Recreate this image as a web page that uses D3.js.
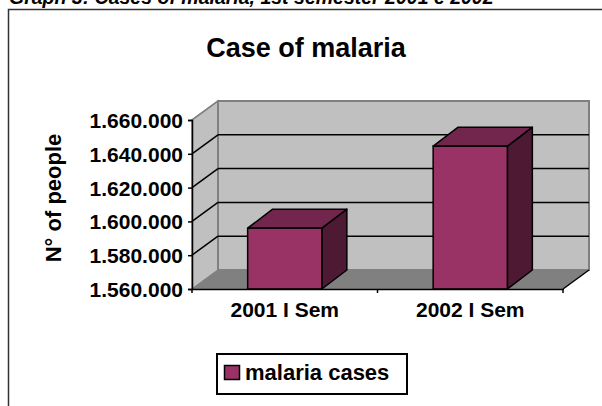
<!DOCTYPE html>
<html>
<head>
<meta charset="utf-8">
<script src="https://cdn.jsdelivr.net/npm/d3@7"></script>
<style>
  body { margin: 0; background: #fff; }
  text { font-family: Arial, "Liberation Sans", sans-serif; font-weight: bold; fill: #000; }
</style>
</head>
<body>
<div id="chart"></div>
<script>
// data
var categories = ["2001 I Sem", "2002 I Sem"];
var malariaCases = [1596000, 1644500];
var seriesName = "malaria cases";
var yTicks = [1560000, 1580000, 1600000, 1620000, 1640000, 1660000];
var chartTitle = "Case of malaria";
var yTitle = "N° of people";
var caption = "Graph 3: Cases of malaria, 1st semester 2001 e 2002";

var width = 602, height = 406;
var depthX = 26, depthY = 19;   // 3d depth of walls
var barDX = 25, barDY = 19;

var svg = d3.select("#chart").append("svg")
  .attr("width", width).attr("height", height)
  .style("display", "block");

var x = d3.scaleBand().domain(categories).range([192, 563])
  .paddingInner(0.6).paddingOuter(0.3);
var y = d3.scaleLinear().domain([1560000, 1660000]).range([289, 120]);

var fmt = d3.formatLocale({decimal: ",", thousands: ".", grouping: [3], currency: ["", ""]}).format(",d");

// caption (cut by the top edge, as in the source) + frame
svg.append("text").attr("x", 9).attr("y", 4)
  .style("font-size", "19.5px").style("font-style", "italic")
  .text(caption);
svg.append("path").attr("d", "M8.5,406 L8.5,9.5 L602,9.5")
  .attr("fill", "none").attr("stroke", "#333").attr("stroke-width", 1.5);

// title
svg.append("text").attr("x", 306).attr("y", 57).attr("text-anchor", "middle")
  .style("font-size", "27px").text(chartTitle);

var x0 = x.range()[0], x1 = x.range()[1];
var yMin = y(yTicks[0]), yMax = y(yTicks[yTicks.length - 1]);

// floor
svg.append("path")
  .attr("d", "M" + x0 + "," + yMin + " L" + (x0 + depthX) + "," + (yMin - depthY) +
    " L" + (x1 + depthX) + "," + (yMin - depthY) + " L" + x1 + "," + yMin + "Z")
  .attr("fill", "#808080");
// side wall
svg.append("path")
  .attr("d", "M" + x0 + "," + yMin + " L" + x0 + "," + yMax + " L" + (x0 + depthX) + "," + (yMax - depthY) +
    " L" + (x0 + depthX) + "," + (yMin - depthY) + "Z")
  .attr("fill", "#c0c0c0").attr("stroke", "#808080").attr("stroke-width", 1.5);
// back wall
svg.append("rect")
  .attr("x", x0 + depthX).attr("y", yMax - depthY)
  .attr("width", x1 - x0).attr("height", yMin - yMax)
  .attr("fill", "#c0c0c0").attr("stroke", "#808080").attr("stroke-width", 2);

// gridlines on back wall and side wall
var inner = yTicks.slice(1, -1);
svg.selectAll(".grid").data(inner).enter().append("line")
  .attr("x1", x0 + depthX).attr("x2", x1 + depthX)
  .attr("y1", function(d) { return y(d) - depthY; })
  .attr("y2", function(d) { return y(d) - depthY; })
  .attr("stroke", "#000").attr("stroke-width", 1.5);
svg.selectAll(".sgrid").data(yTicks.slice(1)).enter().append("line")
  .attr("x1", x0).attr("x2", x0 + depthX)
  .attr("y1", function(d) { return y(d); })
  .attr("y2", function(d) { return y(d) - depthY; })
  .attr("stroke", function(d, i) { return i == yTicks.length - 2 ? "#808080" : "#000"; })
  .attr("stroke-width", 1.5);
// floor right edge
svg.append("line")
  .attr("x1", x1).attr("y1", yMin).attr("x2", x1 + depthX).attr("y2", yMin - depthY)
  .attr("stroke", "#000").attr("stroke-width", 1.5);

// bars
var bars = svg.selectAll(".bar").data(malariaCases).enter().append("g");
bars.append("path") // side
  .attr("d", function(d, i) {
    var bx = x(categories[i]) + x.bandwidth(), t = y(d);
    return "M" + bx + "," + t + " L" + (bx + barDX) + "," + (t - barDY) + " L" + (bx + barDX) + "," + (yMin - barDY) +
      " L" + bx + "," + yMin + "Z";
  })
  .attr("fill", "#4d1933").attr("stroke", "#000").attr("stroke-width", 1.5).attr("stroke-linejoin", "round");
bars.append("path") // top
  .attr("d", function(d, i) {
    var bx = x(categories[i]), bw = x.bandwidth(), t = y(d);
    return "M" + bx + "," + t + " L" + (bx + barDX) + "," + (t - barDY) + " L" + (bx + bw + barDX) + "," + (t - barDY) +
      " L" + (bx + bw) + "," + t + "Z";
  })
  .attr("fill", "#73264d").attr("stroke", "#000").attr("stroke-width", 1.5).attr("stroke-linejoin", "round");
bars.append("rect") // front
  .attr("x", function(d, i) { return x(categories[i]); })
  .attr("y", function(d) { return y(d); })
  .attr("width", x.bandwidth())
  .attr("height", function(d) { return yMin - y(d); })
  .attr("fill", "#993366").attr("stroke", "#000").attr("stroke-width", 1.5);

// y axis
var yAxis = svg.append("g").attr("transform", "translate(" + x0 + ",0)")
  .call(d3.axisLeft(y).tickValues(yTicks).tickFormat(fmt).tickSize(4).tickPadding(5));
yAxis.select(".domain").attr("stroke", "#000").attr("stroke-width", 1.5);
yAxis.selectAll(".tick line").attr("stroke", "#000").attr("stroke-width", 1.5);
yAxis.selectAll("text").style("font-size", "21px").style("font-family", "Arial, 'Liberation Sans', sans-serif")
  .attr("fill", "#000").attr("dy", "0.36em");

// x axis
var xAxis = svg.append("g").attr("transform", "translate(0," + yMin + ")")
  .call(d3.axisBottom(x).tickSize(0).tickPadding(13));
xAxis.select(".domain").attr("stroke", "#000").attr("stroke-width", 1.5);
xAxis.selectAll("text").style("font-size", "21px").style("font-family", "Arial, 'Liberation Sans', sans-serif")
  .attr("fill", "#000");
// category separators
var seps = [x0, (x0 + x1) / 2, x1];
svg.selectAll(".xtick").data(seps).enter().append("line")
  .attr("x1", function(d) { return d; }).attr("x2", function(d) { return d; })
  .attr("y1", yMin).attr("y2", yMin + 4)
  .attr("stroke", "#000").attr("stroke-width", 1.5);

// y title
svg.append("text")
  .attr("transform", "translate(61,198) rotate(-90)")
  .attr("text-anchor", "middle").style("font-size", "22px")
  .text(yTitle);

// legend
var lg = svg.append("g");
lg.append("rect").attr("x", 217).attr("y", 354).attr("width", 190).attr("height", 40)
  .attr("fill", "#fff").attr("stroke", "#000").attr("stroke-width", 2);
lg.append("rect").attr("x", 224.5).attr("y", 365.5).attr("width", 15).attr("height", 14)
  .attr("fill", "#993366").attr("stroke", "#000").attr("stroke-width", 1.5);
lg.append("text").attr("x", 245).attr("y", 380).style("font-size", "22px").text(seriesName);
</script>
</body>
</html>
